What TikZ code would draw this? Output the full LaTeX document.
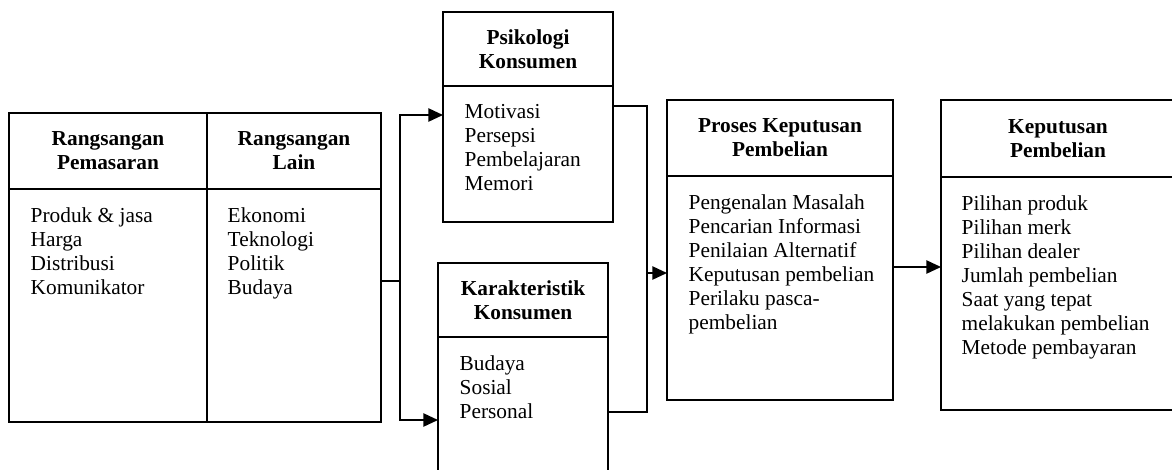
\documentclass[tikz,border=0pt]{standalone}
\usepackage{fontspec}
\setmainfont{Liberation Serif}
\usetikzlibrary{arrows.meta,positioning}

\tikzset{
  head/.style={draw,anchor=north west,align=center,inner sep=0pt,outer sep=0pt,
    font=\bfseries\fontsize{16}{18}\selectfont},
  body/.style={draw,anchor=north west,inner sep=0pt,outer sep=0pt},
  items/.style={anchor=north west,align=left,inner sep=0pt,
    font=\fontsize{16}{18}\selectfont,execute at begin node=\strut},
}

\begin{document}
\begin{tikzpicture}[x=0.75pt,y=-0.75pt,line width=1.1pt,>={Triangle[length=11pt,width=10pt]}]
  \clip (0,0) rectangle (1172,469);
  % rangsangan
  \node[head,minimum width=148.5pt,minimum height=57pt](pem) at (9,113) {Rangsangan\\Pemasaran};
  \node[body,minimum width=148.5pt,minimum height=174.75pt](pemB) at (pem.south west) {};
  \node[head,minimum width=130.5pt,minimum height=57pt](lain) at (pem.north east) {Rangsangan\\Lain};
  \node[body,minimum width=130.5pt,minimum height=174.75pt](lainB) at (lain.south west) {};
  \node[items](pemL) at ([shift={(21,18)}]pemB.north west) {Produk \& jasa\\Harga\\Distribusi\\Komunikator};
  \node[items](lainL) at ([shift={(20,18)}]lainB.north west) {Ekonomi\\Teknologi\\Politik\\Budaya};

  % konsumen
  \node[head,minimum width=127.5pt,minimum height=55.5pt](psi) at (443,12) {Psikologi\\Konsumen};
  \node[body,minimum width=127.5pt,minimum height=102pt](psiB) at (psi.south west) {};
  \node[items](psiL) at ([shift={(21,18)}]psiB.north west) {Motivasi\\Persepsi\\Pembelajaran\\Memori};
  \node[head,minimum width=127.5pt,minimum height=55.5pt](kar) at (438,263) {Karakteristik\\Konsumen};
  \node[body,minimum width=127.5pt,minimum height=122.25pt](karB) at (kar.south west) {};
  \node[items](karL) at ([shift={(21,18)}]karB.north west) {Budaya\\Sosial\\Personal};

  % keputusan
  \node[head,minimum width=169.5pt,minimum height=57pt](pro) at (667,100) {Proses Keputusan\\Pembelian};
  \node[body,minimum width=169.5pt,minimum height=168pt](proB) at (pro.south west) {};
  \node[items](proL) at ([shift={(21,18)}]proB.north west) {Pengenalan Masalah\\Pencarian Informasi\\Penilaian Alternatif\\Keputusan pembelian\\Perilaku pasca-\\pembelian};
  \node[head,minimum width=175.5pt,minimum height=57.75pt](kep) at (941,100) {Keputusan\\Pembelian};
  \node[body,minimum width=175.5pt,minimum height=174.75pt](kepB) at (kep.south west) {};
  \node[items](kepL) at ([shift={(20,18)}]kepB.north west) {Pilihan produk\\Pilihan merk\\Pilihan dealer\\Jumlah pembelian\\Saat yang tepat\\melakukan pembelian\\Metode pembayaran};

  % arrows
  \coordinate (split) at (400,281);
  \coordinate (join) at (647,273);
  \draw (lainB.east |- split) -- (split);
  \draw[->] (split) |- ([shift={(0,29)}]psiB.north west);
  \draw[->] (split) |- ([shift={(0,83)}]karB.north west);
  \draw ([shift={(0,20)}]psiB.north east) -| (join);
  \draw ([shift={(0,75)}]karB.north east) -| (join);
  \draw[->] (join) -- (proB.west |- join);
  \coordinate (out) at ([shift={(0,91)}]proB.north east);
  \draw[->] (out) -- (kepB.west |- out);
\end{tikzpicture}
\end{document}
